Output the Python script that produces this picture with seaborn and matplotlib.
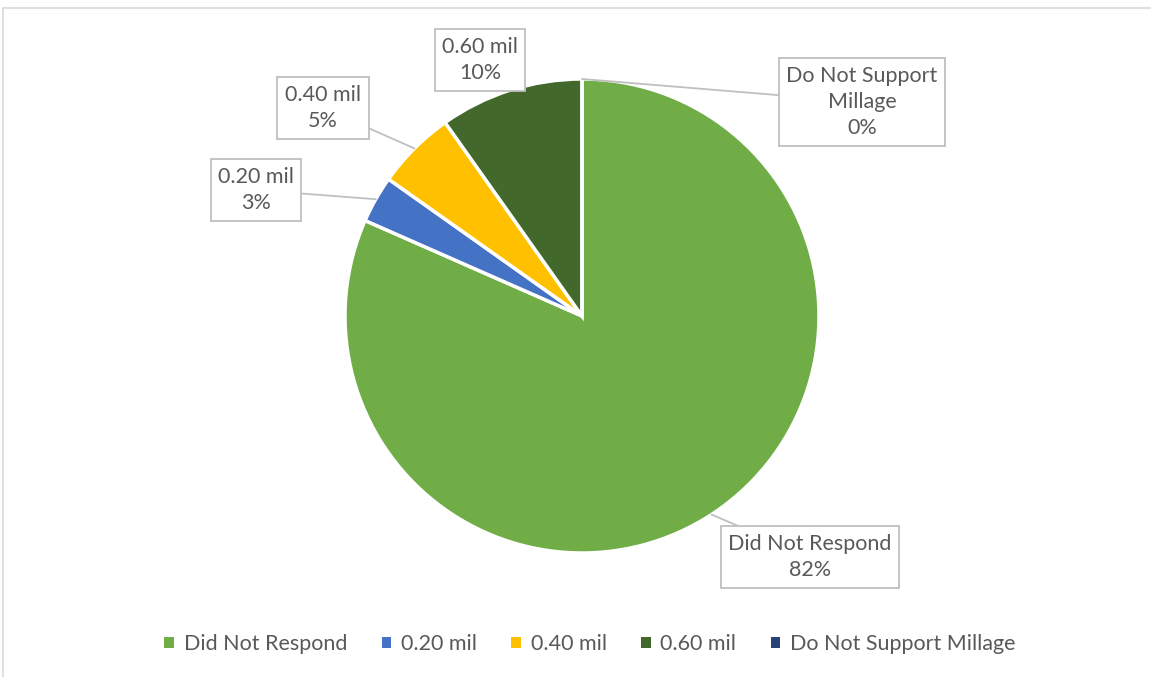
import numpy as np
import matplotlib
matplotlib.use("Agg")
import matplotlib.pyplot as plt
import seaborn as sns
from matplotlib.patches import Patch, Rectangle

sns.set_theme(style="white")
plt.rcParams["font.family"] = ["Lato", "DejaVu Sans"]

categories = ["Did Not Respond", "0.20 mil", "0.40 mil", "0.60 mil", "Do Not Support Millage"]
shares = [81.6, 3.2, 5.4, 9.8, 0.0]
box_texts = ["Did Not Respond\n82%", "0.20 mil\n3%", "0.40 mil\n5%", "0.60 mil\n10%",
             "Do Not Support\nMillage\n0%"]
colors = ["#70AD47", "#4472C4", "#FFC000", "#43682B", "#264478"]

# label box centres in figure pixels (from top-left)
box_pos = [(810, 557), (256, 190), (323, 108), (480, 60), (862, 102)]

W, H = 1151, 677
fig = plt.figure(figsize=(W / 100, H / 100), dpi=100)
fig.patches.append(Rectangle((3 / W, -0.1), 1.2, (H - 8) / H + 0.1, transform=fig.transFigure,
                             fill=False, edgecolor="#d9d9d9", linewidth=1.2))

cx, cy, r = 582, 316, 237
ax = fig.add_axes([(cx - r) / W, (H - cy - r) / H, 2 * r / W, 2 * r / H])
wedges, _ = ax.pie(shares, colors=colors, startangle=90, counterclock=False, radius=1,
                   wedgeprops=dict(edgecolor="white", linewidth=2.5))
ax.set_xlim(-1, 1)
ax.set_ylim(-1, 1)
ax.set_aspect("equal")
ax.axis("off")

for w, txt, (px, py) in zip(wedges, box_texts, box_pos):
    mid = np.deg2rad((w.theta1 + w.theta2) / 2)
    ax.annotate(txt, xy=(np.cos(mid), np.sin(mid)), xytext=(px, H - py),
                textcoords="figure pixels", ha="center", va="center",
                fontsize=15.5, color="#595959", linespacing=1.4,
                bbox=dict(boxstyle="square,pad=0.35", fc="white", ec="#bfbfbf", lw=1.3),
                arrowprops=dict(arrowstyle="-", color="#bfbfbf", lw=1.3,
                                shrinkA=0, shrinkB=0))

handles = [Patch(facecolor=c, edgecolor="none") for c in colors]
fig.legend(handles, categories, loc="center", bbox_to_anchor=(590 / W, (H - 644) / H),
           ncol=5, frameon=False, fontsize=15.5, labelcolor="#595959",
           handlelength=0.45, handleheight=0.45, handletextpad=0.45, columnspacing=1.6)

fig.savefig("out.png", dpi=100, facecolor="white")
